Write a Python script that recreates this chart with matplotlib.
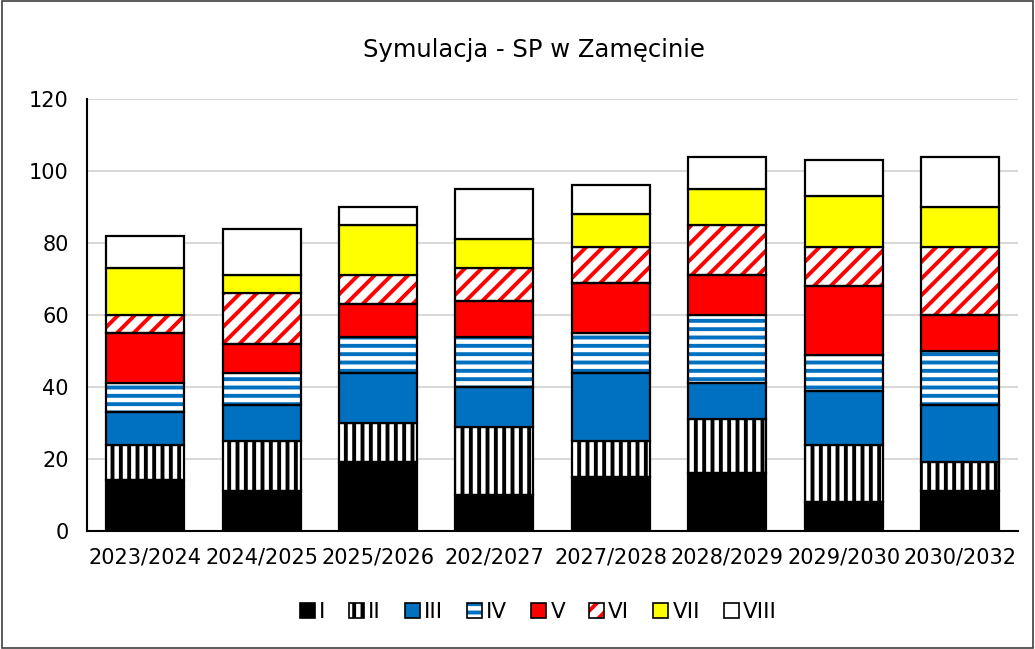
import numpy as np
import matplotlib
matplotlib.use("Agg")
import matplotlib.pyplot as plt
from matplotlib.patches import Patch, Rectangle
from matplotlib.legend_handler import HandlerTuple

lata = ["2023/2024", "2024/2025", "2025/2026", "202/2027",
        "2027/2028", "2028/2029", "2029/2030", "2030/2032"]

klasy = ["I", "II", "III", "IV", "V", "VI", "VII", "VIII"]

kl_I    = [14, 11, 19, 10, 15, 16,  8, 11]
kl_II   = [10, 14, 11, 19, 10, 15, 16,  8]
kl_III  = [ 9, 10, 14, 11, 19, 10, 15, 16]
kl_IV   = [ 8,  9, 10, 14, 11, 19, 10, 15]
kl_V    = [14,  8,  9, 10, 14, 11, 19, 10]
kl_VI   = [ 5, 14,  8,  9, 10, 14, 11, 19]
kl_VII  = [13,  5, 14,  8,  9, 10, 14, 11]
kl_VIII = [ 9, 13,  5, 14,  8,  9, 10, 14]

dane = [kl_I, kl_II, kl_III, kl_IV, kl_V, kl_VI, kl_VII, kl_VIII]

# styl: (wypelnienie, kolor kreskowania, kreskowanie)
style = [("black", None, None),
         ("white", "black", "||"),
         ("#0070c0", None, None),
         ("white", "#0070c0", "--"),
         ("#ff0000", None, None),
         ("white", "#ff0000", "//"),
         ("#ffff00", None, None),
         ("white", None, None)]

plt.rcParams["font.family"] = ["DejaVu Sans"]
plt.rcParams["hatch.linewidth"] = 2.8

fig = plt.figure(figsize=(10.35, 6.49), dpi=100)
ax = fig.add_axes([0.084, 0.182, 0.9, 0.6655])

x = np.arange(len(lata))
dol = np.zeros(len(lata))
uchwyty = []
for wart, (fc, hc, h) in zip(dane, style):
    wart = np.array(wart)
    if h:
        ax.bar(x, wart, 0.67, bottom=dol, color="white", edgecolor=hc,
               hatch=h, linewidth=0, zorder=2)
    ax.bar(x, wart, 0.67, bottom=dol, color=fc if not h else "none",
           edgecolor="black", linewidth=1.6, zorder=3)
    if h:
        uchwyty.append((Patch(facecolor="white", edgecolor=hc, hatch=h, linewidth=0),
                        Patch(facecolor="none", edgecolor="black", linewidth=1.2)))
    else:
        uchwyty.append(Patch(facecolor=fc, edgecolor="black", linewidth=1.2))
    dol += wart

ax.set_xlim(-0.5, 7.5)
ax.set_ylim(0, 120)
ax.set_yticks(range(0, 121, 20))
ax.set_xticks(x)
ax.set_xticklabels(lata)
ax.tick_params(axis="both", length=0, labelsize=15)
ax.tick_params(axis="y", pad=13)
ax.tick_params(axis="x", pad=12)
ax.yaxis.grid(True, color="#d9d9d9", linewidth=1.5, zorder=0)
ax.set_axisbelow(True)
for s in ["top", "right"]:
    ax.spines[s].set_visible(False)
ax.spines["left"].set_linewidth(1.5)
ax.spines["bottom"].set_linewidth(1.5)

fig.text(0.516, 0.923, "Symulacja - SP w Zamęcinie", ha="center", va="center", fontsize=17.5)

fig.legend(uchwyty, klasy, loc="center", bbox_to_anchor=(0.52, 0.057), ncol=8,
           frameon=False, fontsize=15.5, handlelength=0.7, handleheight=0.7,
           handletextpad=0.2, columnspacing=1.1,
           handler_map={tuple: HandlerTuple(ndivide=1)})

fig.patches.append(Rectangle((0.002, 0.002), 0.996, 0.996, transform=fig.transFigure,
                             fill=False, edgecolor="#404040", linewidth=1.2))

fig.savefig("out.png", dpi=100)
